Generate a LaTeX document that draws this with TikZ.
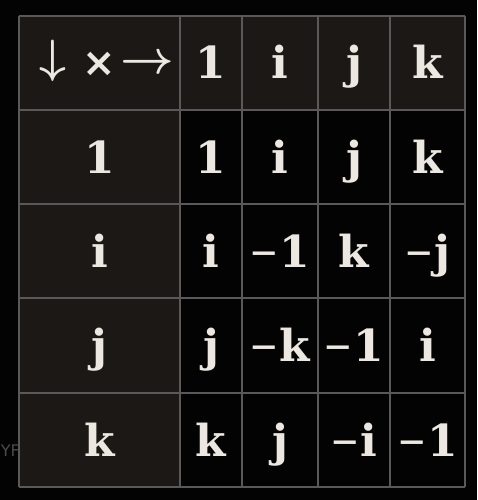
\documentclass[tikz,border=0pt]{standalone}
\usepackage{graphicx}
\usepackage{fontspec}
\setmainfont{DejaVu Serif}
\setsansfont{DejaVu Sans}
\definecolor{bg}{HTML}{030303}
\definecolor{hdr}{HTML}{1C1816}
\definecolor{gridc}{HTML}{5A5858}
\definecolor{txt}{HTML}{ECE8E1}
\definecolor{wmc}{HTML}{4A4A4A}
\newcommand{\mn}{{\mdseries\scalebox{0.8}[1]{−}}\kern0.5pt}
\newcommand{\bigsym}[2]{{\fontsize{20.74}{20.74}\selectfont\boldmath\scalebox{#1}{$#2$}}}
\begin{document}
\begin{tikzpicture}[x=1pt,y=-1pt,
  cell/.style={text=txt,font=\fontsize{44}{44}\selectfont\bfseries,anchor=base,inner sep=0pt},
  sym/.style={text=txt,inner sep=0pt,anchor=center},
  gridline/.style={draw=gridc,line width=2pt}]
\useasboundingbox (0,0) rectangle (477,500);
\fill[bg] (0,0) rectangle (477,500);
\fill[hdr] (19,16) rectangle (465,110);
\fill[hdr] (19,110) rectangle (180,487);
% grid
\foreach \x in {19,180,242,318,390,465} \draw[gridline] (\x,16) -- (\x,487);
\foreach \y in {16,110,204,298,393,487} \draw[gridline] (19,\y) -- (465,\y);
% header corner
\node[sym] (dn) at (53,60.5) {\bigsym{2.25}{\downarrow}};
\node[sym,font=\sffamily\fontsize{40}{40}\selectfont\bfseries] (tm) at (99,64) {×};
\node[sym] (rt) at (147,64) {\bigsym{2.25}{\rightarrow}};
% header row
\node[cell] (h1) at (211,79) {1};
\node[cell] (hi) at (280,79) {i};
\node[cell] (hj) at (354,79) {j};
\node[cell] (hk) at (427.5,79) {k};
% row 1
\node[cell] (r1) at (99.5,173) {1};
\node[cell] (a11) at (211,173) {1};
\node[cell] (a1i) at (280,173) {i};
\node[cell] (a1j) at (354,173) {j};
\node[cell] (a1k) at (427.5,173) {k};
% row i
\node[cell] (ri) at (99.5,267) {i};
\node[cell] (ai1) at (211,267) {i};
\node[cell] (aii) at (280,267) {\mn 1};
\node[cell] (aij) at (354,267) {k};
\node[cell] (aik) at (427.5,267) {\mn j};
% row j
\node[cell] (rj) at (99.5,361.5) {j};
\node[cell] (aj1) at (211,361.5) {j};
\node[cell] (aji) at (280,361.5) {\mn k};
\node[cell] (ajj) at (354,361.5) {\mn 1};
\node[cell] (ajk) at (427.5,361.5) {i};
% row k
\node[cell] (rk) at (99.5,456) {k};
\node[cell] (ak1) at (211,456) {k};
\node[cell] (aki) at (280,456) {j};
\node[cell] (akj) at (354,456) {\mn i};
\node[cell] (akk) at (427.5,456) {\mn 1};
% watermark
\node[text=wmc,font=\sffamily\fontsize{16}{16}\selectfont,anchor=east,inner sep=0pt] (wm) at (20,451) {YF};
\end{tikzpicture}
\end{document}
